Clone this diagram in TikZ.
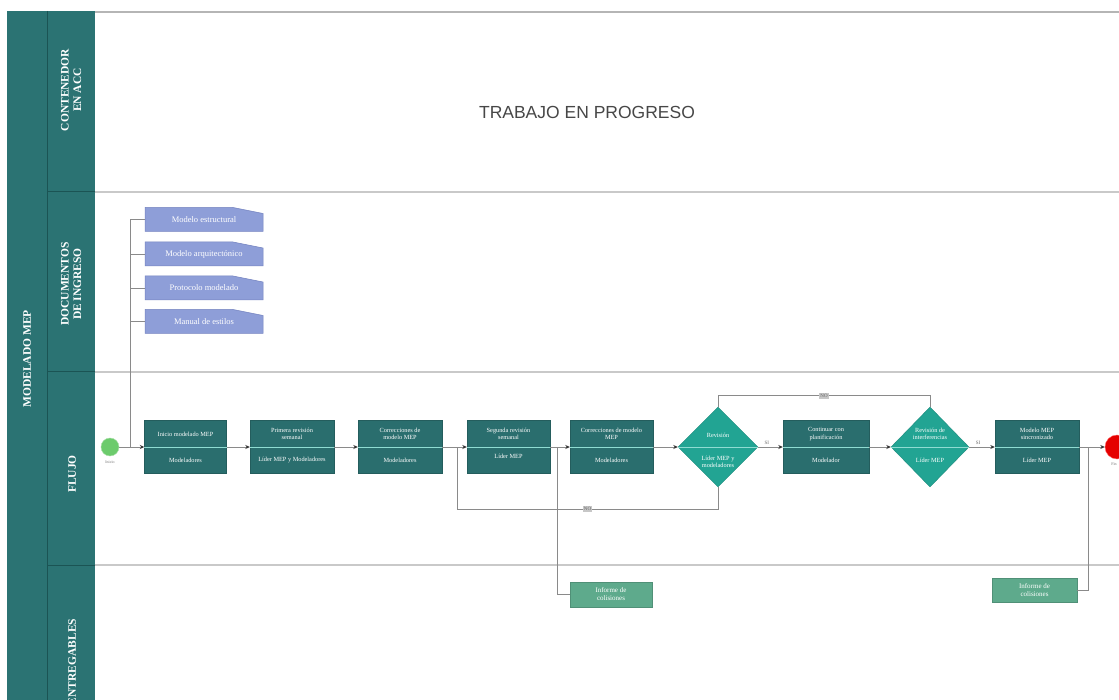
\documentclass[tikz,border=0pt]{standalone}
\usepackage{fontspec}
\setmainfont{Liberation Serif}
\setsansfont{Liberation Sans}
\usetikzlibrary{shapes.geometric,arrows.meta,calc}
\definecolor{band}{HTML}{2B7373}
\definecolor{bandline}{HTML}{1B5454}
\definecolor{boxc}{HTML}{2A6E6E}
\definecolor{diac}{HTML}{22A493}
\definecolor{midc}{HTML}{8FDCD2}
\definecolor{docc}{HTML}{8E9ED8}
\definecolor{docb}{HTML}{7584C0}
\definecolor{delc}{HTML}{5EAA8C}
\definecolor{lanec}{HTML}{C9C9C9}
\definecolor{linec}{HTML}{8A8A8A}
\definecolor{startc}{HTML}{6CCB6C}
\begin{document}
\begin{tikzpicture}[x=1pt,y=-1pt,
  task/.style={rectangle, fill=boxc, draw=boxc!85!black, line width=0.4pt, minimum width=#1, minimum height=53pt, inner sep=0pt},
  task/.default=83pt,
  dia/.style={diamond, fill=diac, draw=diac!85!black, line width=0.4pt, inner sep=0pt, minimum width=80pt, minimum height=80pt},
  btxt/.style={text=white, font=\fontsize{6.3}{7.6}\selectfont, align=center, inner sep=0pt},
  midline/.style={draw=midc, line width=0.9pt},
  flow/.style={draw=linec, line width=0.7pt, -{Stealth[length=4.5pt,width=4pt,color=black!80]}},
  conn/.style={draw=linec, line width=0.7pt},
  lanelab/.style={text=white, font=\bfseries\fontsize{11.5}{12.5}\selectfont, align=center, inner sep=0pt},
  doctxt/.style={text=white, font=\fontsize{8.5}{10}\selectfont, minimum width=118pt, minimum height=24pt, inner sep=0pt},
  deliv/.style={fill=delc, draw=delc!85!black, line width=0.4pt, text=white, font=\fontsize{7}{8}\selectfont, align=center, inner sep=0pt},
  nolab/.style={fill=black!22, text=black!60, font=\fontsize{5}{6}\selectfont, inner sep=1.2pt},
  silab/.style={text=black!60, font=\fontsize{5}{6}\selectfont, inner sep=0pt},
  small/.style={text=black!55, font=\fontsize{4}{5}\selectfont, inner sep=0pt}]
\useasboundingbox (0,0) rectangle (1119,700);
\clip (0,0) rectangle (1119,700);
\fill[white] (0,0) rectangle (1119,700);
% lanes
\draw[lanec!90!black, line width=2.5pt] (95,12) -- (1125,12);
\foreach \yy in {192,372,565}{\draw[lanec, line width=1.8pt] (95,\yy) -- (1125,\yy);}
\fill[band] (7,11) rectangle (95,745);
\draw[bandline, line width=1pt] (47,11) -- (47,745);
\foreach \yy in {192,372,565}{\draw[bandline, line width=1pt] (47,\yy) -- (95,\yy);}
\node[lanelab, rotate=90] (lm) at (27,359) {MODELADO MEP};
\node[lanelab, rotate=90] (lc) at (71,90) {CONTENEDOR\\EN ACC};
\node[lanelab, rotate=90] (ld) at (71,284) {DOCUMENTOS\\DE INGRESO};
\node[lanelab, rotate=90] (lf) at (72,474) {FLUJO};
\node[lanelab, rotate=90] (le) at (72,662) {ENTREGABLES};
\node[font=\sffamily\fontsize{17.5}{20}\selectfont, text=black!72, inner sep=0pt] (wip) at (587,112) {TRABAJO EN PROGRESO};
% input documents
\coordinate (br) at (130,447);
\foreach \n/\yy/\t in {dc1/219.5/Modelo estructural, dc2/254/Modelo arquitectónico, dc3/288/Protocolo modelado, dc4/321.5/Manual de estilos}{
  \draw[docb, fill=docc, line width=0.5pt] (145,{\yy+12}) -- (145,{\yy-12}) -- (233,{\yy-12}) -- (263,{\yy-6}) -- (263,{\yy+12}) -- cycle;
  \node[doctxt] (\n) at (204,\yy) {\t};
}
\draw[conn] (dc1.west) -| (br);
\foreach \n in {dc2,dc3,dc4}{\draw[conn] (\n.west) -- (\n.west -| br);}
% flow nodes
\node[circle, fill=startc, draw=startc!60!white, minimum size=18pt, inner sep=0pt] (st) at (110,447) {};
\node[small] (stl) at (110,462) {Inicio};
\node[task=82pt] (b1) at (185.5,447) {};
\node[task=84pt] (b2) at (292,447) {};
\node[task=84pt] (b3) at (400,447) {};
\node[task=83pt] (b4) at (508.5,447) {};
\node[task=83pt] (b5) at (611.5,447) {};
\node[dia] (d1) at (718,447) {};
\node[task=86pt] (b6) at (826,447) {};
\node[dia, minimum width=78pt] (d2) at (930,447) {};
\node[task=84pt] (b7) at (1037,447) {};
\node[circle, fill=red!90!black, draw=red!60!white, minimum size=24pt, inner sep=0pt] (en) at (1117,447) {};
\node[small] (enl) at (1114,464) {Fin};
\foreach \n in {b1,b2,b3,b4,b5,d1,b6,d2,b7}{\draw[midline] (\n.west) -- (\n.east);}
% texts
\node[btxt] (b1t) at (185.5,434) {Inicio modelado MEP};
\node[btxt] (b1b) at (185.5,460) {Modeladores};
\node[btxt] (b2t) at (292,434) {Primera revisión\\semanal};
\node[btxt] (b2b) at (292,460) {Líder MEP y Modeladores};
\node[btxt] (b3t) at (400,434) {Correcciones de\\modelo MEP};
\node[btxt] (b3b) at (400,460) {Modeladores};
\node[btxt] (b4t) at (508.5,434) {Segunda revisión\\semanal};
\node[btxt] (b4b) at (508.5,456) {Líder MEP};
\node[btxt] (b5t) at (611.5,434) {Correcciones de modelo\\MEP};
\node[btxt] (b5b) at (611.5,460) {Modeladores};
\node[btxt] (d1t) at (718,435) {Revisión};
\node[btxt] (d1b) at (718,462) {Líder MEP y\\modeladores};
\node[btxt] (b6t) at (826,434) {Continuar con\\planificación};
\node[btxt] (b6b) at (826,460) {Modelador};
\node[btxt] (d2t) at (930,434) {Revisión de\\interferencias};
\node[btxt] (d2b) at (930,460) {Líder MEP};
\node[btxt] (b7t) at (1037,434) {Modelo MEP\\sincronizado};
\node[btxt] (b7b) at (1037,460) {Líder MEP};
% deliverables
\node[deliv, minimum width=82pt, minimum height=25pt] (del1) at (611,594.5) {Informe de\\colisiones};
\node[deliv, minimum width=85pt, minimum height=24pt] (del2) at (1034.5,590) {Informe de\\colisiones};
% connectors
\draw[flow] (st) -- (b1);
\draw[flow] (b1) -- (b2);
\draw[flow] (b2) -- (b3);
\draw[flow] (b3) -- (b4);
\draw[flow] (b4) -- (b5);
\draw[flow] (b5) -- (d1);
\draw[flow] (d1) -- node[silab, above=2pt, pos=0.35] (si1) {SI} (b6);
\draw[flow] (b6) -- (d2);
\draw[flow] (d2) -- node[silab, above=2pt, pos=0.35] (si2) {SI} (b7);
\draw[flow] (b7) -- (en);
\coordinate (j1) at (457,447);
\coordinate (j2) at (557,447);
\coordinate (j3) at (1088,447);
\draw[conn] (d2.north) -- ++(0,-11) -| node[nolab, pos=0.25] (no1) {NO} (d1.north);
\draw[conn] (d1.south) -- ++(0,22) -| node[nolab, pos=0.25] (no2) {NO} (j1);
\draw[conn] (j2) |- (del1.west);
\draw[conn] (j3) |- (del2.east);
\end{tikzpicture}
\end{document}
